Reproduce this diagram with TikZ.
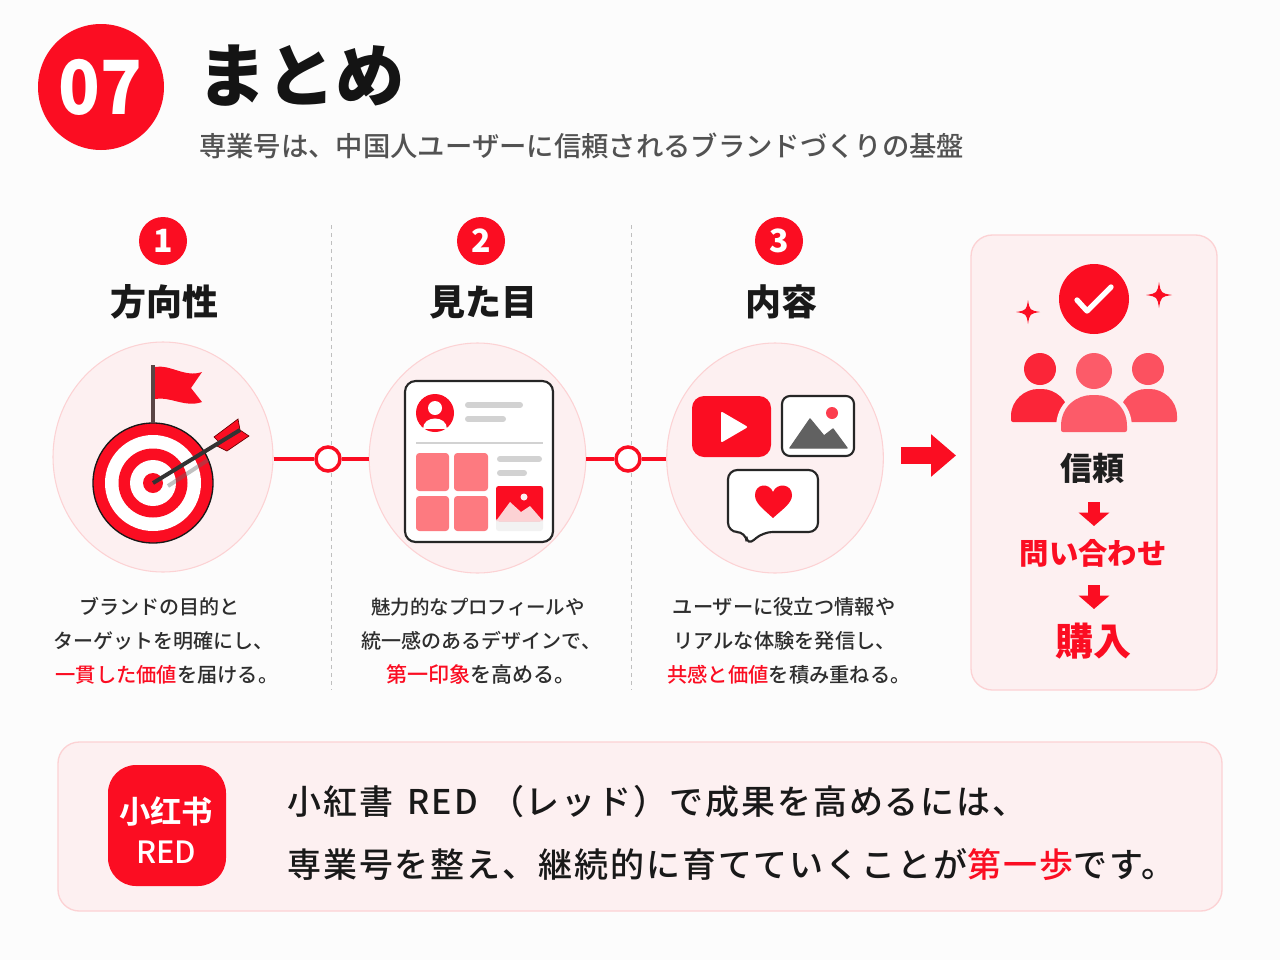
\documentclass[tikz,border=0pt]{standalone}
\usepackage{fontspec}
\setmainfont{Noto Sans CJK JP}
\newfontfamily\scfont{Noto Sans CJK SC}[BoldFont={* Bold}]
\newfontfamily\medfont{Noto Sans CJK JP Medium}
\newfontfamily\msgfont{Noto Sans CJK JP Medium}[LetterSpace=5.6]
\newfontfamily\blackfont{Noto Sans CJK JP Black}
\usetikzlibrary{arrows.meta,positioning,calc,shapes.geometric}
\definecolor{redmain}{HTML}{FB0D22}
\definecolor{pinkfill}{HTML}{FDF0F1}
\definecolor{pinkline}{HTML}{FCD2D4}
\definecolor{tilered}{HTML}{FD7A80}
\definecolor{barGray}{HTML}{D2D2D2}
\definecolor{poleBrown}{HTML}{5A4545}
\newcommand{\fsz}[1]{\fontsize{#1}{#1}\selectfont}
\newcommand{\sparkle}[3]{\fill[redmain] (#1,#2-#3) .. controls (#1+.14*#3,#2-.14*#3) .. (#1+#3,#2)
  .. controls (#1+.14*#3,#2+.14*#3) .. (#1,#2+#3) .. controls (#1-.14*#3,#2+.14*#3) .. (#1-#3,#2)
  .. controls (#1-.14*#3,#2-.14*#3) .. (#1,#2-#3) -- cycle;}
\begin{document}
\begin{tikzpicture}
[x=.75pt,y=-.75pt,
numbadge/.style={circle,fill=redmain,text=white,inner sep=0,minimum size=36pt,font=\fsz{24}\bfseries},
heading/.style={font=\fsz{27}\bfseries,text=black!90},
plate/.style={ellipse,fill=pinkfill,draw=pinkline,line width=.8pt,inner sep=0},
panel/.style={fill=pinkfill,draw=pinkline,line width=1pt,rounded corners=16pt},
caption/.style={align=center,font=\medfont\fsz{15.2},text=black!82,text height=11pt,text depth=3pt,inner sep=0,yshift=-2.25pt},
linkline/.style={redmain,line width=2.6pt},
ringnode/.style={circle,draw=redmain,line width=2.6pt,fill=white,inner sep=0,minimum size=18pt},
fatarrow/.style={redmain,line width=12.75pt,-{Triangle[length=18.75pt,width=30.75pt]}},
downarrow/.style={redmain,line width=9pt,-{Triangle[length=10pt,width=22.5pt]}},
divider/.style={black!25,dashed,line width=.6pt},
grayline/.style={barGray,line width=4.5pt,line cap=round},
tile/.style={fill=tilered,rounded corners=2.5pt},
msgline/.style={anchor=west,inner sep=0,font=\msgfont\fsz{25.5},text=black!90},
outline/.style={draw=black!85,line width=1.6pt,fill=white}]
\useasboundingbox (0,0) rectangle (1280,960);
\fill[white!99!black] (0,0) rectangle (1280,960);
%% header
\fill[redmain] (101,87) circle (63);
\node[xscale=.92,text=white,font=\blackfont\fsz{56}] (badge) at (100,87) {07};
\node[font=\fsz{52}\bfseries,text=black!92] (title) at (301,76) {まとめ};
\node[font=\medfont\fsz{20.5},text=black!68,anchor=west,inner sep=0] (subtitle) at (199,146) {専業号は、中国人ユーザーに信頼されるブランドづくりの基盤};
%% dividers
\draw[divider] (331,225) -- (331,690);
\draw[divider] (631,225) -- (631,690);
%% step columns
\node[numbadge] (num1) at (163,241) {1};
\node[numbadge] (num2) at (481,241) {2};
\node[numbadge] (num3) at (779,241) {3};
\node[heading] (head1) at (164,302) {方向性};
\node[heading] (head2) at (483,302) {見た目};
\node[heading] (head3) at (781,302) {内容};
\node[plate,minimum width=165pt,minimum height=172.5pt] (goal) at (163,457) {};
\node[plate,minimum width=162.5pt,minimum height=172.5pt] (look) at (477.5,458) {};
\node[plate,minimum width=162.5pt,minimum height=172.5pt] (body) at (775,458) {};
%% links
\node[ringnode] (ring1) at (328,459) {};
\node[ringnode] (ring2) at (628,459) {};
\draw[linkline] (goal.east |- ring1) -- (ring1);
\draw[linkline] (ring1) -- (look.west |- ring1);
\draw[linkline] (look.east |- ring2) -- (ring2);
\draw[linkline] (ring2) -- (body.west |- ring2);
%% target icon
\draw[black!90,line width=1pt,fill=redmain] (153,483) circle (60);
\fill[white] (153,483) circle (48);
\fill[redmain] (153,483) circle (34.5);
\fill[white] (153,483) circle (23);
\fill[redmain] (153,483) circle (10);
\draw[poleBrown,line width=3pt] (153,423) -- (153,365);
\fill[redmain] (155,367) .. controls (170,364) and (185,378) .. (202,372) -- (191,388) -- (202,402)
  .. controls (185,408) and (170,396) .. (155,399) -- cycle;
\draw[black!60,line width=3pt,opacity=.4] (168,486) -- (208,460);
\fill[redmain,draw=black!60!red,line width=.5pt] (214,437) -- (238,419) -- (240,430) -- (220,443) -- cycle;
\fill[redmain,draw=black!60!red,line width=.5pt] (217,446) -- (227,451) -- (249,436) -- (240,430) -- cycle;
\draw[black!80,line width=3pt] (153,483) -- (240,430);
%% profile icon
\draw[outline,rounded corners=8pt] (405,381) rectangle (553,542);
\fill[redmain] (435,413) circle (19);
\fill[white] (435,408) circle (7);
\fill[white] (423,429) .. controls (423,415) and (447,415) .. (447,429) -- cycle;
\draw[grayline] (468,405) -- (520,405);
\draw[grayline] (468,419) -- (503,419);
\draw[barGray,line width=1.5pt] (416,443) -- (543,443);
\fill[tile] (416,453) rectangle (449,491);
\fill[tile] (454,453) rectangle (488,491);
\fill[tile] (416,496) rectangle (449,531);
\fill[tile] (454,496) rectangle (488,531);
\draw[grayline] (500,459) -- (539,459);
\draw[grayline] (500,473) -- (524,473);
\fill[black!5,rounded corners=2pt] (496,486) rectangle (543,531);
\fill[redmain,rounded corners=2pt] (496,521) -- (496,486) -- (543,486) -- (543,521) -- cycle;
\fill[pinkline] (496,521) -- (510,502) -- (521,512) -- (530,506) -- (543,521) -- cycle;
\fill[pinkfill] (524,497) circle (3.5);
%% media icons
\fill[redmain,rounded corners=9pt] (692,396) rectangle (771,457);
\fill[white,draw=white,line width=1.5pt,line join=round] (722,413) -- (746,427) -- (722,441) -- cycle;
\draw[outline,rounded corners=6pt] (782,396) rectangle (854,456);
\fill[redmain!80!white] (832,413) circle (6);
\fill[black!62,draw=black!62,line width=1pt,line join=round] (790,448) -- (810,419) -- (824,436) -- (833,429) -- (847,448) -- cycle;
\draw[outline,rounded corners=7pt] (728,470) -- (818,470) -- (818,532) -- (763,532) -- (747,546) -- (746,532) -- (728,532) -- cycle;
\fill[redmain] (773,518) .. controls (762,508) and (755,503) .. (755,495) .. controls (755,484) and (769,482) .. (773,492)
  .. controls (777,482) and (792,484) .. (792,495) .. controls (792,503) and (784,508) .. (773,518) -- cycle;
%% captions
\node[caption,font=\medfont\fsz{15}] (cap1a) at (159,606) {ブランドの目的と};
\node[caption,font=\medfont\fsz{15}] (cap1b) at (163,640) {ターゲットを明確にし、};
\node[caption] (cap1c) at (167,674) {\textcolor{redmain}{一貫した価値}を届ける。};
\node[caption,font=\medfont\fsz{14.6}] (cap2a) at (478,606) {魅力的なプロフィールや};
\node[caption,font=\medfont\fsz{15}] (cap2b) at (481.5,640) {統一感のあるデザインで、};
\node[caption,font=\medfont\fsz{15.8}] (cap2c) at (481,674) {\textcolor{redmain}{第一印象}を高める。};
\node[caption] (cap3a) at (784,606) {ユーザーに役立つ情報や};
\node[caption] (cap3b) at (784.5,640) {リアルな体験を発信し、};
\node[caption] (cap3c) at (789,674) {\textcolor{redmain}{共感と価値}を積み重ねる。};
%% trust panel
\draw[panel] (971,235) rectangle (1217,690);
\coordinate (bigtail) at (901,455.5);
\coordinate (bigtip) at (956,455.5);
\draw[fatarrow] (bigtail) -- (bigtip);
\node[circle,fill=redmain,inner sep=0,minimum size=52.5pt] (check) at (1094,299) {};
\draw[white,line width=4pt,line cap=round,line join=round] (1077,300) -- (1087,311) -- (1111,287);
\sparkle{1028}{312}{12}
\sparkle{1159}{295}{13}
\fill[redmain!90!white] (1040,369) circle (16);
\fill[redmain!72!white] (1148,369) circle (16);
\fill[redmain!90!white,rounded corners=1.5pt] (1011,422) -- (1011,418) .. controls (1011,400) and (1025,389) .. (1040,389) .. controls (1055,389) and (1069,400) .. (1069,418) -- (1069,422) -- cycle;
\fill[redmain!72!white,rounded corners=1.5pt] (1119,422) -- (1119,418) .. controls (1119,400) and (1133,389) .. (1148,389) .. controls (1163,389) and (1177,400) .. (1177,418) -- (1177,422) -- cycle;
\fill[redmain!68!white] (1094,371) circle (18);
\draw[pinkfill,line width=7.5pt,fill=redmain!68!white,line join=round] (1061,432) -- (1061,428) .. controls (1061,406) and (1077,395) .. (1094,395) .. controls (1111,395) and (1127,406) .. (1127,428) -- (1127,432) -- cycle;
\fill[redmain!68!white,rounded corners=1.5pt] (1061,432) -- (1061,428) .. controls (1061,406) and (1077,395) .. (1094,395) .. controls (1111,395) and (1127,406) .. (1127,428) -- (1127,432) -- cycle;
\node[font=\fsz{24}\bfseries,text=black!88] (trust) at (1092,468) {信頼};
\node[font=\fsz{22}\bfseries,text=redmain] (inquiry) at (1093,553) {問い合わせ};
\node[font=\fsz{28.5}\bfseries,text=redmain] (purchase) at (1093,641) {購入};
\coordinate (a1) at (1094,502);
\coordinate (a1e) at (1094,526);
\coordinate (a2) at (1094,585);
\coordinate (a2e) at (1094,609);
\draw[downarrow] (a1) -- (a1e);
\draw[downarrow] (a2) -- (a2e);
%% bottom message
\draw[panel] (58,742) rectangle (1222,911);
\fill[redmain,rounded corners=21pt] (108,765) rectangle (226,886);
\node[font=\scfont\fsz{23.5}\bfseries,text=white,inner sep=0] (applogo) at (166,811) {小红书};
\node[font=\medfont\fsz{23},text=white,inner sep=0] (appred) at (166,852) {RED};
\node[msgline] (msg1) at (287,802) {小紅書\kern11pt RED\kern9pt（レッド）で成果を高めるには、};
\node[msgline] (msg2) at (287,865) {専業号を整え、継続的に育てていくことが\textcolor{redmain}{第一歩}です。};
\end{tikzpicture}
\end{document}
